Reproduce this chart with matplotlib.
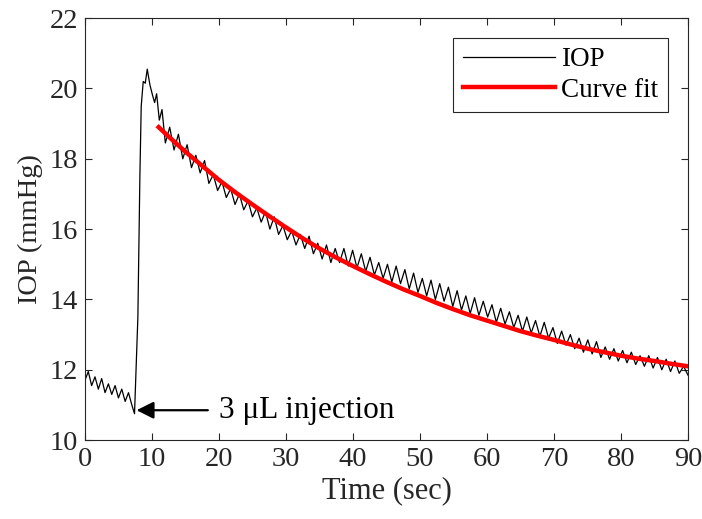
import numpy as np
import matplotlib
matplotlib.use("Agg")
import matplotlib.pyplot as plt

plt.rcParams['font.family'] = ['Liberation Serif', 'DejaVu Serif']

# IOP before and during the injection spike (time, mmHg)
t_pre = [0.0, 0.5, 1.0, 1.5, 2.0, 2.5, 3.0, 3.5, 4.0, 4.5, 5.0, 5.5, 6.0, 6.5,
         7.0, 7.4, 7.9, 8.2, 8.4, 8.7, 9.0, 9.3, 9.7, 10.1, 10.4, 10.7, 11.1, 11.5]
iop_pre = [11.7, 11.95, 11.55, 11.8, 11.45, 11.75, 11.35, 11.6, 11.3, 11.55, 11.2, 11.45,
           11.1, 11.35, 11.0, 10.75, 13.5, 17.5, 19.5, 20.2, 20.15, 20.55, 20.1, 19.8,
           19.6, 19.85, 19.1, 19.4]

# IOP decay, sampled every 0.65 s from t = 12 s (trough / peak alternating)
t_decay = np.arange(121) * 0.65 + 12.0
iop_decay = [
    18.45, 18.9, 18.25, 18.7, 18.0, 18.4, 17.75, 18.1, 17.6, 17.95,
    17.3, 17.55, 17.1, 17.35, 16.9, 17.15, 16.7, 17.0, 16.55, 16.8,
    16.35, 16.6, 16.2, 16.5, 16.0, 16.35, 15.85, 16.1, 15.7, 15.95,
    15.55, 15.85, 15.45, 15.8, 15.3, 15.6, 15.15, 15.55, 15.05, 15.45,
    15.05, 15.45, 14.95, 15.4, 14.9, 15.3, 14.8, 15.2, 14.7, 15.05,
    14.6, 15.0, 14.5, 14.95, 14.45, 14.85, 14.3, 14.75, 14.2, 14.6,
    14.1, 14.55, 14.0, 14.45, 13.95, 14.35, 13.8, 14.25, 13.7, 14.1,
    13.6, 14.05, 13.55, 13.95, 13.5, 13.85, 13.35, 13.75, 13.3, 13.65,
    13.2, 13.55, 13.1, 13.5, 13.05, 13.4, 12.95, 13.35, 12.9, 13.2,
    12.75, 13.1, 12.7, 13.0, 12.6, 12.9, 12.5, 12.85, 12.45, 12.8,
    12.35, 12.65, 12.3, 12.6, 12.25, 12.55, 12.2, 12.5, 12.15, 12.4,
    12.1, 12.4, 12.05, 12.35, 12.0, 12.3, 11.95, 12.25, 11.9, 12.1,
    11.85]

# exponential curve fit
t_fit = [11, 12.5, 15, 17.5, 20, 22.5, 25, 27.5, 30, 32.5, 35, 37.5, 40, 42.5,
         45, 47.5, 50, 52.5, 55, 57.5, 60, 62.5, 65, 67.5, 70, 72.5, 75, 77.5,
         80, 82.5, 85, 87.5, 90]
iop_fit = [18.9, 18.63, 18.2, 17.8, 17.4, 17.04, 16.7, 16.37, 16.05, 15.74, 15.45,
           15.19, 14.95, 14.72, 14.5, 14.29, 14.1, 13.9, 13.72, 13.55, 13.4, 13.25,
           13.1, 12.97, 12.85, 12.72, 12.6, 12.5, 12.4, 12.32, 12.25, 12.17, 12.1]

t_all = list(t_pre) + list(t_decay)
iop_all = list(iop_pre) + list(iop_decay)

fig = plt.figure(figsize=(7.02, 5.19), dpi=100)
ax = fig.add_axes([0.121, 0.152, 0.859, 0.813])

ax.plot(t_all, iop_all, color='black', lw=0.9, label='IOP')
ax.plot(t_fit, iop_fit, color='red', lw=3.2, label='Curve fit')

ax.annotate('3 μL injection', xy=(7.7, 10.85), xytext=(20.0, 10.85),
            fontsize=22.5, va='center', ha='left', color='black',
            arrowprops=dict(arrowstyle='-|>', color='black', lw=1.6,
                            mutation_scale=26, shrinkA=6, shrinkB=0))

ax.set_xlim(0, 90)
ax.set_ylim(10, 22)
ax.set_xticks(range(0, 91, 10))
ax.set_yticks(range(10, 23, 2))
ax.tick_params(direction='in', length=5, width=0.8, top=True, right=True,
               labelsize=20.5, pad=5, colors='#262626', labelcolor='#262626')
for s in ax.spines.values():
    s.set_linewidth(0.8)
    s.set_color('#262626')
ax.set_xlabel('Time (sec)', fontsize=22, color='#262626', labelpad=3)
ax.set_ylabel('IOP (mmHg)', fontsize=20.5, color='#262626', labelpad=5)

leg = ax.legend(loc='upper right', bbox_to_anchor=(0.967, 0.953), fontsize=19.5,
                fancybox=False, edgecolor='#262626', framealpha=1,
                handlelength=3.4, handletextpad=0.25, borderpad=0.35,
                labelspacing=0.2, borderaxespad=0)
leg.get_frame().set_linewidth(0.8)

fig.savefig('out.png', dpi=100)
